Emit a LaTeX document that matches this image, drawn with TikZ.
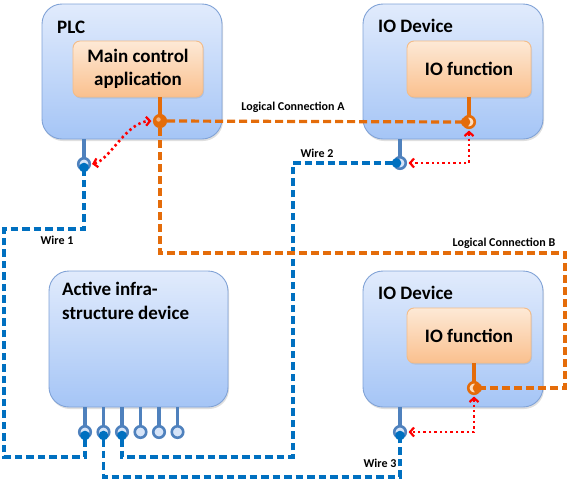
\documentclass[tikz,border=0pt]{standalone}
\usepackage{fontspec}
\setmainfont{Carlito}
\usetikzlibrary{arrows.meta,shadows}
\definecolor{boxtop}{RGB}{225,235,252}
\definecolor{boxbot}{RGB}{165,197,246}
\definecolor{boxline}{RGB}{128,162,214}
\definecolor{fntop}{RGB}{253,233,214}
\definecolor{fnbot}{RGB}{250,192,142}
\definecolor{fnline}{RGB}{244,188,136}
\definecolor{orangeL}{RGB}{228,108,10}
\definecolor{blueL}{RGB}{0,112,192}
\definecolor{stemc}{RGB}{79,129,189}
\definecolor{portfill}{RGB}{214,228,248}
\definecolor{oportfill}{RGB}{253,222,192}
\tikzset{
  devbox/.style={draw=boxline, line width=0.9pt, rounded corners=20pt, top color=boxtop, bottom color=boxbot,
     drop shadow={opacity=0.25, shadow xshift=1pt, shadow yshift=-2pt}, inner sep=0pt},
  fnbox/.style={draw=fnline, line width=0.9pt, rounded corners=7pt, top color=fntop, bottom color=fnbot,
     drop shadow={opacity=0.2, shadow xshift=1pt, shadow yshift=-1.5pt}, inner sep=0pt, align=center,
     font=\bfseries\fontsize{19}{23}\selectfont},
  title/.style={font=\bfseries\fontsize{19}{24}\selectfont, anchor=base west, inner sep=0pt, align=left},
  lbl/.style={font=\bfseries\fontsize{12}{14}\selectfont, inner sep=0pt},
  bstem/.style={draw=stemc, line width=3.4pt},
  ostem/.style={draw=orangeL, line width=3.4pt},
  bport/.style={circle, draw=stemc, line width=2.6pt, fill=portfill, minimum size=11.5pt, inner sep=0pt},
  oport/.style={circle, draw=orangeL, line width=2.6pt, fill=oportfill, minimum size=11.5pt, inner sep=0pt},
  wire/.style={draw=blueL, line width=3.2pt, dash pattern=on 7.5pt off 4pt},
  logic/.style={draw=orangeL, line width=3.2pt, dash pattern=on 8pt off 4pt},
  sig/.style={draw=red, line width=2.6pt, dash pattern=on 2.4pt off 3pt, {Straight Barb[length=4pt,width=9pt,line width=2.2pt]}-{Straight Barb[length=4pt,width=9pt,line width=2.2pt]}},
}
\begin{document}
\begin{tikzpicture}[x=1pt,y=-1pt]
\useasboundingbox (0,0) rectangle (569,480);
% devices
\node[devbox, minimum width=180pt, minimum height=135pt] (plc) at (132,71.5) {};
\node[devbox, minimum width=180pt, minimum height=135pt] (ioa) at (453,71.5) {};
\node[devbox, minimum width=179pt, minimum height=136pt] (inf) at (138.5,339) {};
\node[devbox, minimum width=180pt, minimum height=136pt] (iob) at (453,339) {};
\node[title] (plct) at (57,33) {PLC};
\node[title] (ioat) at (378,32) {IO Device};
\node[title] (iobt) at (378,299) {IO Device};
\node[title, anchor=north west] (inft) at (62,282) {Active infra-\\structure device};
\node[fnbox, minimum width=130pt, minimum height=56pt] (mca) at (138,69) {Main control\\application};
\node[fnbox, minimum width=124pt, minimum height=56pt] (ioaf) at (469,69) {IO function};
\node[fnbox, minimum width=124pt, minimum height=55pt] (iobf) at (469,335.5) {IO function};
% stems
\draw[bstem] (84,139) -- (84,158);
\draw[ostem] (160,97) -- (160,115);
\draw[ostem] (469,97) -- (469,116);
\draw[bstem] (400,139) -- (400,157);
\draw[ostem] (474,363) -- (474,382);
\draw[bstem] (400,407) -- (400,426);
\foreach \x in {85,103.5,122,140.5,159,177.5} \draw[bstem] (\x,407) -- (\x,426);
% ports
\node[bport] (pb) at (84,164) {};
\node[oport, fill=orangeL] (po) at (160,121) {};
\node[oport] (ao) at (469,122) {};
\node[bport] (ab) at (400,163) {};
\node[oport] (bo) at (474,388) {};
\node[bport] (bb) at (400,432) {};
\node[bport] (i1) at (85,432) {};
\node[bport] (i2) at (103.5,432) {};
\node[bport] (i3) at (122,432) {};
\node[bport] (i4) at (140.5,432) {};
\node[bport] (i5) at (159,432) {};
\node[bport] (i6) at (177.5,432) {};
% routing points
\coordinate (w1a) at (4,457);
\coordinate (w1b) at (84,229);
\coordinate (w2a) at (293,457);
\coordinate (w3a) at (400,477);
\coordinate (lb) at (565,253);
% wires
\draw[wire] (i1.south) |- (w1a) |- (w1b) -- (pb.south);
\draw[wire] (i3.south) |- (w2a) |- (ab.west);
\draw[wire] (i2.south) |- (w3a) -- (bb.south);
\draw[logic] (po.east) -- (ao.west);
\draw[logic] (po.south) |- (lb) |- (bo.east);
% plugs
\foreach \p in {pb,bb,i1,i2,i3} \fill[blueL] ([yshift=-3.5pt]\p.center) circle (4.8pt);
\fill[blueL] ([xshift=-3.5pt]ab.center) circle (4.8pt);
\fill[orangeL] ([xshift=-3.5pt]ao.center) circle (4.8pt);
\fill[orangeL] ([xshift=3.5pt]bo.center) circle (4.8pt);
\fill[white, opacity=0.5] ([xshift=-1.5pt,yshift=1.5pt]po.center) circle (2.2pt);
% signal paths
\draw[sig] ([xshift=1pt]pb.east) .. controls (110,160) and (126,122) .. ([xshift=-1.5pt]po.west);
\draw[sig] ([yshift=-1.5pt]ao.south) |- ([xshift=1.5pt]ab.east);
\draw[sig] ([yshift=-1.5pt]bo.south) |- ([xshift=1.5pt]bb.east);
% labels
\node[lbl] (lca) at (293,107) {Logical Connection A};
\node[lbl] (lcb) at (504,243) {Logical Connection B};
\node[lbl] (lw1) at (57,240) {Wire 1};
\node[lbl] (lw2) at (317,153) {Wire 2};
\node[lbl] (lw3) at (380,463) {Wire 3};
\end{tikzpicture}
\end{document}
